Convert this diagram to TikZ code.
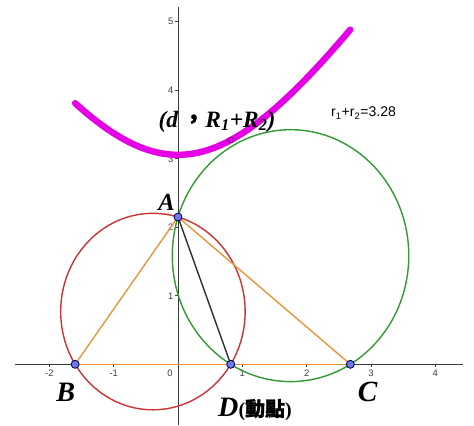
\documentclass[tikz,border=0pt]{standalone}
\usepackage{fontspec}
\setmainfont{Liberation Serif}
\setsansfont{Liberation Sans}
\newfontfamily\cjk{Noto Sans CJK TC}[FakeBold=1.2]
\usepackage{tikz}
\usetikzlibrary{positioning,calc}
\definecolor{ggred}{RGB}{204,51,51}
\definecolor{gggreen}{RGB}{51,153,51}
\definecolor{ggorange}{RGB}{232,150,60}
\definecolor{ggmagenta}{RGB}{230,0,230}
\definecolor{ggblue}{RGB}{110,120,240}
\definecolor{ggaxis}{RGB}{60,60,60}

\begin{document}
\begin{tikzpicture}[
  x=1.929cm, y=2.055cm,
  axis/.style={ggaxis, line width=0.8pt},
  tick/.style={ggaxis, line width=0.6pt},
  ticklabel/.style={font=\sffamily\fontsize{8}{8}\selectfont, text=ggaxis, inner sep=0pt},
  circ/.style={line width=1.2pt},
  side/.style={ggorange, line width=1.2pt},
  vertex/.style={circle, draw=blue!25!black, fill=ggblue, line width=0.7pt, minimum size=0.24cm, inner sep=0pt},
  locpt/.style={circle, draw=ggmagenta!60!black, fill=ggmagenta, line width=0.7pt, minimum size=0.17cm, inner sep=0pt},
  locus/.style={ggmagenta, line width=5.5pt, line cap=round},
  ptlabel/.style={font=\bfseries\itshape\fontsize{24}{24}\selectfont, inner sep=0pt}
]
\useasboundingbox (-2.768,-0.886) rectangle (4.603,5.318);

\draw[axis] (-2.535,0) -- (4.432,0);
\draw[axis] (0,-0.886) -- (0,5.21);
\foreach \i in {-2,-1,1,2,3,4} {
  \draw[tick] (\i,0) -- (\i,-0.035);
  \node[ticklabel] at (\i,-0.127) {\i};
}
\foreach \j in {1,...,5} {
  \draw[tick] (0,\j) -- (-0.04,\j);
  \node[ticklabel, anchor=east] at (-0.07,\j) {\j};
}
\node[ticklabel] at (-0.124,-0.127) {0};

\coordinate (A) at (0,2.15);
\coordinate (B) at (-1.6,0);
\coordinate (C) at (2.68,0);
\coordinate (D) at (0.82,0);
\coordinate (Ored) at (-0.39,0.7699);
\coordinate (Ogreen) at (1.75,1.5861);

\draw[circ, ggred] (Ored) circle[radius=1.4342];
\draw[circ, gggreen] (Ogreen) circle[radius=1.8386];

\draw[side] (B) -- (C);
\draw[side] (A) -- (B);
\draw[side] (A) -- (C);
\draw[ggaxis!80!black, line width=1.2pt] (A) -- (D);

\draw[locus] plot[domain=-1.6:2.68, samples=80, smooth] (\x, {1.4223*sqrt(\x*\x+4.6225)});
\node[locpt] (P) at (0.82,3.273) {};

\node[vertex] (nA) at (A) {};
\node[vertex] (nB) at (B) {};
\node[vertex] (nC) at (C) {};
\node[vertex] (nD) at (D) {};

\node[ptlabel, font=\bfseries\itshape\fontsize{21}{21}\selectfont] (labA) at (-0.176,2.36) {A};
\node[ptlabel] (labB) at (-1.747,-0.415) {B};
\node[ptlabel, font=\bfseries\itshape\fontsize{25}{25}\selectfont] (labC) at (2.95,-0.41) {C};
\node[ptlabel, anchor=base west] (labD) at (0.622,-0.755)
  {D{\upshape\fontsize{17}{17}\selectfont(\cjk 動點\normalfont\bfseries\fontsize{17}{17}\selectfont)}};
\node[ptlabel, font=\bfseries\itshape\fontsize{20}{20}\selectfont] (labP) at (0.607,3.542)
  {(d\,{\upshape\cjk ，}R\textsubscript{1}+R\textsubscript{2})};
\node[font=\sffamily\fontsize{12}{12}\selectfont, inner sep=0pt] (sum) at (2.885,3.667)
  {r\textsubscript{1}+r\textsubscript{2}=3.28};
\end{tikzpicture}
\end{document}
